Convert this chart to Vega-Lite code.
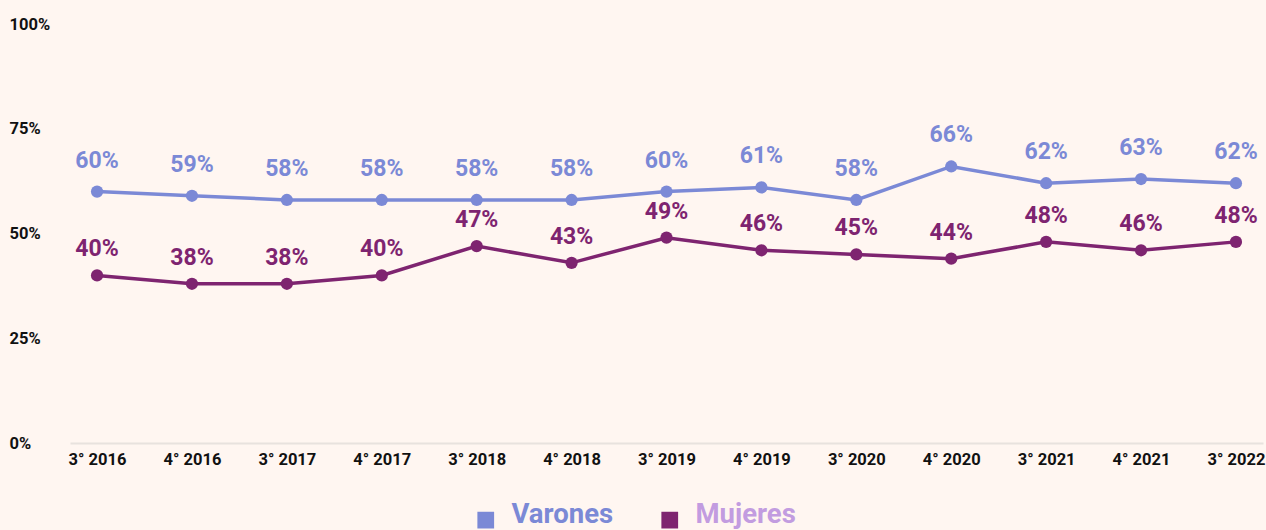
{
  "$schema": "https://vega.github.io/schema/vega-lite/v6.json",
  "width": 1193,
  "height": 419,
  "autosize": "none",
  "padding": {"left": 70, "top": 24, "right": 3, "bottom": 87},
  "background": "#FFF6F1",
  "config": {
    "view": {"stroke": null},
    "font": "Roboto"
  },
  "data": {
    "values": [
      {"periodo": "3° 2016", "grupo": "Varones", "valor": 60, "etiqueta": "60%"},
      {"periodo": "4° 2016", "grupo": "Varones", "valor": 59, "etiqueta": "59%"},
      {"periodo": "3° 2017", "grupo": "Varones", "valor": 58, "etiqueta": "58%"},
      {"periodo": "4° 2017", "grupo": "Varones", "valor": 58, "etiqueta": "58%"},
      {"periodo": "3° 2018", "grupo": "Varones", "valor": 58, "etiqueta": "58%"},
      {"periodo": "4° 2018", "grupo": "Varones", "valor": 58, "etiqueta": "58%"},
      {"periodo": "3° 2019", "grupo": "Varones", "valor": 60, "etiqueta": "60%"},
      {"periodo": "4° 2019", "grupo": "Varones", "valor": 61, "etiqueta": "61%"},
      {"periodo": "3° 2020", "grupo": "Varones", "valor": 58, "etiqueta": "58%"},
      {"periodo": "4° 2020", "grupo": "Varones", "valor": 66, "etiqueta": "66%"},
      {"periodo": "3° 2021", "grupo": "Varones", "valor": 62, "etiqueta": "62%"},
      {"periodo": "4° 2021", "grupo": "Varones", "valor": 63, "etiqueta": "63%"},
      {"periodo": "3° 2022", "grupo": "Varones", "valor": 62, "etiqueta": "62%"},
      {"periodo": "3° 2016", "grupo": "Mujeres", "valor": 40, "etiqueta": "40%"},
      {"periodo": "4° 2016", "grupo": "Mujeres", "valor": 38, "etiqueta": "38%"},
      {"periodo": "3° 2017", "grupo": "Mujeres", "valor": 38, "etiqueta": "38%"},
      {"periodo": "4° 2017", "grupo": "Mujeres", "valor": 40, "etiqueta": "40%"},
      {"periodo": "3° 2018", "grupo": "Mujeres", "valor": 47, "etiqueta": "47%"},
      {"periodo": "4° 2018", "grupo": "Mujeres", "valor": 43, "etiqueta": "43%"},
      {"periodo": "3° 2019", "grupo": "Mujeres", "valor": 49, "etiqueta": "49%"},
      {"periodo": "4° 2019", "grupo": "Mujeres", "valor": 46, "etiqueta": "46%"},
      {"periodo": "3° 2020", "grupo": "Mujeres", "valor": 45, "etiqueta": "45%"},
      {"periodo": "4° 2020", "grupo": "Mujeres", "valor": 44, "etiqueta": "44%"},
      {"periodo": "3° 2021", "grupo": "Mujeres", "valor": 48, "etiqueta": "48%"},
      {"periodo": "4° 2021", "grupo": "Mujeres", "valor": 46, "etiqueta": "46%"},
      {"periodo": "3° 2022", "grupo": "Mujeres", "valor": 48, "etiqueta": "48%"}
    ]
  },
  "encoding": {
    "x": {
      "field": "periodo",
      "type": "ordinal",
      "sort": null,
      "scale": {"type": "point", "padding": 0.285},
      "axis": {
        "title": null,
        "labelAngle": 0,
        "labelFont": "Roboto",
        "labelFontSize": 16.5,
        "labelFontWeight": "bold",
        "labelColor": "#111111",
        "labelPadding": 8,
        "ticks": false,
        "domainColor": "#E8E2DE",
        "domainWidth": 2,
        "grid": false
      }
    },
    "y": {
      "field": "valor",
      "type": "quantitative",
      "scale": {"domain": [0, 100], "nice": false},
      "axis": {
        "title": null,
        "values": [0, 25, 50, 75, 100],
        "labelExpr": "datum.value + '%'",
        "labelAlign": "left",
        "labelPadding": 61,
        "labelFont": "Roboto",
        "labelFontSize": 16.5,
        "labelFontWeight": "bold",
        "labelColor": "#111111",
        "ticks": false,
        "domain": false,
        "grid": false
      }
    },
    "color": {
      "field": "grupo",
      "type": "nominal",
      "scale": {"domain": ["Varones", "Mujeres"], "range": ["#7B89D6", "#7E2470"]},
      "legend": {
        "title": null,
        "orient": "none",
        "direction": "horizontal",
        "legendX": 402,
        "legendY": 482,
        "symbolType": "square",
        "symbolSize": 280,
        "symbolOpacity": 1,
        "symbolStrokeWidth": 0,
        "labelFont": "Roboto",
        "labelFontSize": 27.5,
        "labelFontWeight": "bold",
        "labelOffset": 12,
        "columnPadding": 42,
        "labelLimit": 300,
        "encode": {
          "labels": {
            "update": {
              "fill": {"signal": "datum.value === 'Varones' ? '#7B89D6' : '#C29CE0'"},
              "dy": {"value": -5}
            }
          },
          "symbols": {
            "update": {
              "fillOpacity": {"value": 1}
            }
          }
        }
      }
    }
  },
  "layer": [
    {
      "mark": {"type": "line", "strokeWidth": 3.5}
    },
    {
      "mark": {"type": "point", "filled": true, "size": 150, "opacity": 1}
    },
    {
      "transform": [{"filter": "datum.grupo === 'Varones'"}],
      "mark": {"type": "text", "dy": -31, "fontSize": 23, "fontWeight": "bold", "font": "Roboto", "baseline": "middle"},
      "encoding": {
        "text": {"field": "etiqueta", "type": "nominal"}
      }
    },
    {
      "transform": [{"filter": "datum.grupo === 'Mujeres'"}],
      "mark": {"type": "text", "dy": -26, "fontSize": 23, "fontWeight": "bold", "font": "Roboto", "baseline": "middle"},
      "encoding": {
        "text": {"field": "etiqueta", "type": "nominal"}
      }
    }
  ]
}
